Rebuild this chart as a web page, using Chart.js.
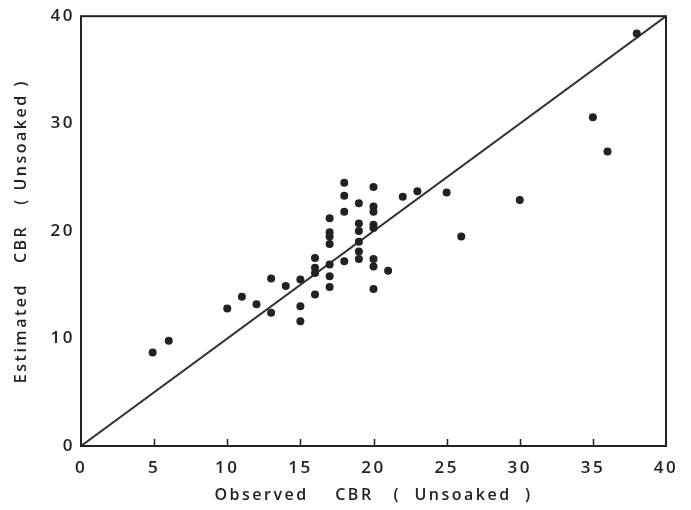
<!DOCTYPE html>
<html>
<head>
<meta charset="utf-8">
<script src="https://cdn.jsdelivr.net/npm/chart.js@4.4.0/dist/chart.umd.min.js"></script>
<style>
  html, body { margin: 0; padding: 0; background: #fff; }
  #wrap { width: 691px; height: 510px; }
</style>
</head>
<body>
<div id="wrap"><canvas id="c" width="691" height="510"></canvas></div>
<script>
const observed = [4.9, 6, 10, 11, 12, 13, 13, 14, 15, 15, 15, 16, 16, 16, 16, 17, 17, 17, 17, 17, 17, 17, 18, 18, 18, 18, 19, 19, 19, 19, 19, 19, 20, 20, 20, 20, 20, 20, 20, 20, 21, 22, 23, 25, 26, 30, 35, 36, 38];
const estimated = [8.7, 9.8, 12.8, 13.9, 13.2, 15.6, 12.4, 14.9, 15.5, 13.0, 11.6, 17.5, 16.6, 16.1, 14.1, 21.2, 19.9, 19.5, 18.8, 16.9, 15.8, 14.8, 24.5, 23.3, 21.8, 17.2, 22.6, 20.7, 20.0, 19.0, 18.1, 17.4, 24.1, 22.3, 21.8, 20.6, 20.3, 17.4, 16.7, 14.6, 16.3, 23.2, 23.7, 23.6, 19.5, 22.9, 30.6, 27.4, 38.4];
const lineX = [0, 40];
const lineY = [0, 40];
const xTicks = [0, 5, 10, 15, 20, 25, 30, 35, 40];
const yTicks = [0, 10, 20, 30, 40];
const xTitle = 'Observed    CBR   (  Unsoaked  )';
const yTitle = 'Estimated   CBR   ( Unsoaked )';

const INK = '#222';
const FONT = "'Open Sans', 'DejaVu Sans', sans-serif";

const spacingPlugin = {
  id: 'spacing',
  beforeInit(chart) { chart.ctx.letterSpacing = '2.5px'; },
  beforeDraw(chart) { chart.ctx.letterSpacing = '2.5px'; }
};

const framePlugin = {
  id: 'frame',
  afterDatasetsDraw(chart) {
    const {ctx, chartArea: a, scales: {x}} = chart;
    ctx.save();
    ctx.strokeStyle = INK;
    ctx.lineWidth = 2;
    ctx.strokeRect(a.left, a.top, a.right - a.left, a.bottom - a.top);
    ctx.lineWidth = 1.5;
    ctx.beginPath();
    xTicks.forEach(v => {
      if (v === 0 || v === 40) return;
      const px = Math.round(x.getPixelForValue(v)) + 0.5;
      ctx.moveTo(px, a.bottom);
      ctx.lineTo(px, a.bottom - 7);
    });
    ctx.stroke();
    ctx.restore();
  }
};

new Chart(document.getElementById('c'), {
  type: 'scatter',
  data: {
    datasets: [
      {
        data: observed.map((v, i) => ({x: v, y: estimated[i]})),
        pointRadius: 4,
        pointHoverRadius: 4,
        pointBackgroundColor: INK,
        pointBorderColor: INK,
        pointBorderWidth: 0,
        showLine: false
      },
      {
        data: lineX.map((v, i) => ({x: v, y: lineY[i]})),
        showLine: true,
        pointRadius: 0,
        borderColor: '#333',
        borderWidth: 2
      }
    ]
  },
  options: {
    responsive: false,
    animation: false,
    devicePixelRatio: 1,
    layout: { padding: { top: 15, right: 25, left: 0, bottom: 0 } },
    plugins: { legend: { display: false }, tooltip: { enabled: false } },
    scales: {
      x: {
        type: 'linear', min: 0, max: 40,
        afterFit(s) { s.height = 64; },
        afterBuildTicks(s) { s.ticks = xTicks.map(v => ({value: v})); },
        grid: { display: false, drawTicks: false },
        border: { display: false },
        ticks: { color: INK, font: { family: FONT, size: 17, weight: 600 }, padding: 12, maxRotation: 0 },
        title: { display: true, text: xTitle, color: INK, padding: { top: 0, bottom: 5 },
                 font: { family: FONT, size: 16, weight: 600 } }
      },
      y: {
        type: 'linear', min: 0, max: 40,
        afterFit(s) { s.width = 81; },
        afterBuildTicks(s) { s.ticks = yTicks.map(v => ({value: v})); },
        grid: { display: false, drawTicks: false },
        border: { display: false },
        ticks: { color: INK, font: { family: FONT, size: 17, weight: 600 }, padding: 6 },
        title: { display: true, text: yTitle, color: INK, padding: { top: 12, bottom: 0 },
                 font: { family: FONT, size: 16, weight: 600 } }
      }
    }
  },
  plugins: [spacingPlugin, framePlugin]
});
</script>
</body>
</html>
